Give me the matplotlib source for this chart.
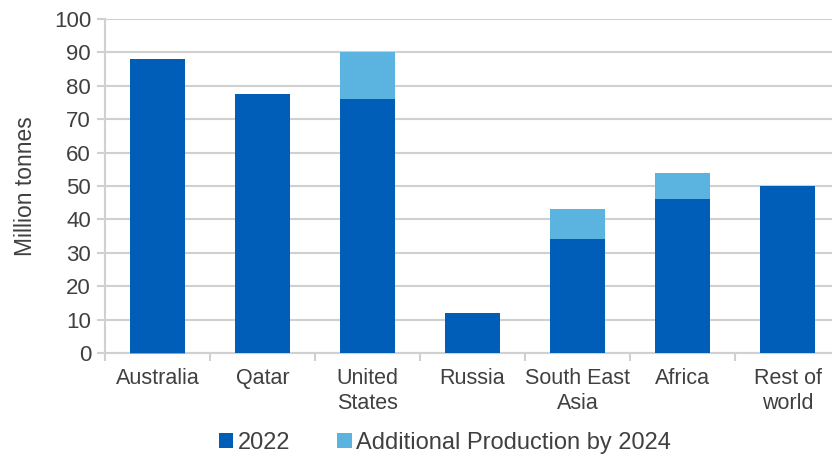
import matplotlib
matplotlib.use("Agg")
import matplotlib.pyplot as plt
import numpy as np

categories = ["Australia", "Qatar", "United\nStates", "Russia", "South East\nAsia", "Africa", "Rest of\nworld"]
prod_2022 = [88, 77.5, 76, 12, 34, 46, 50]
additional_2024 = [-0.4, 0, 14, 0, 9, 8, 0]

dark = "#005EB8"
light = "#5BB4E0"
txt = "#404040"
grid = "#D0D0D0"

plt.rcParams['font.family'] = ['Liberation Sans', 'DejaVu Sans']
fig = plt.figure(figsize=(8.32, 4.57), dpi=100)
W, H = 832, 457
left, right, top, bottom = 105, 840, 19, 353
ax = fig.add_axes([left / W, 1 - bottom / H, (right - left) / W, (bottom - top) / H])

x = np.arange(len(categories))
bw = 0.53
ax.bar(x, prod_2022, bw, color=dark, label="2022", zorder=3)
add_pos = [a if a > 0 else 0 for a in additional_2024]
add_neg = [a if a < 0 else 0 for a in additional_2024]
ax.bar(x, add_pos, bw, bottom=prod_2022, color=light, label="Additional Production by 2024", zorder=3)
ax.bar(x, add_neg, bw, bottom=0, color=light, zorder=4, clip_on=False)

ax.set_xlim(-0.5, len(categories) - 0.5)
ax.set_ylim(0, 100)
ax.set_yticks(np.arange(0, 101, 10))
ax.yaxis.grid(True, color=grid, linewidth=1.5, zorder=0)
ax.set_axisbelow(True)

ax.set_xticks(x)
ax.set_xticklabels(categories, fontsize=15.5, color=txt, linespacing=1.25)
ax.set_xticks(np.arange(-0.5, len(categories), 1), minor=True)
ax.tick_params(axis='x', which='major', length=0, pad=11)
ax.tick_params(axis='x', which='minor', length=6, color=grid, width=1.5)
ax.tick_params(axis='y', length=6, color=grid, width=1.5, labelsize=16, labelcolor=txt, pad=4)

for s in ["top", "right"]:
    ax.spines[s].set_visible(False)
for s in ["left", "bottom"]:
    ax.spines[s].set_color(grid)
    ax.spines[s].set_linewidth(1.5)

ax.set_ylabel("Million tonnes", fontsize=16.5, color=txt, labelpad=12)

handles, labels = ax.get_legend_handles_labels()
fig.legend(handles, labels, loc="center", bbox_to_anchor=(445 / W, 1 - 443 / H), ncol=2,
           frameon=False, fontsize=17, handlelength=0.6, handleheight=0.6, handletextpad=0.2,
           columnspacing=2.0, labelcolor=txt, borderpad=0)

fig.savefig("out.png", dpi=100)
